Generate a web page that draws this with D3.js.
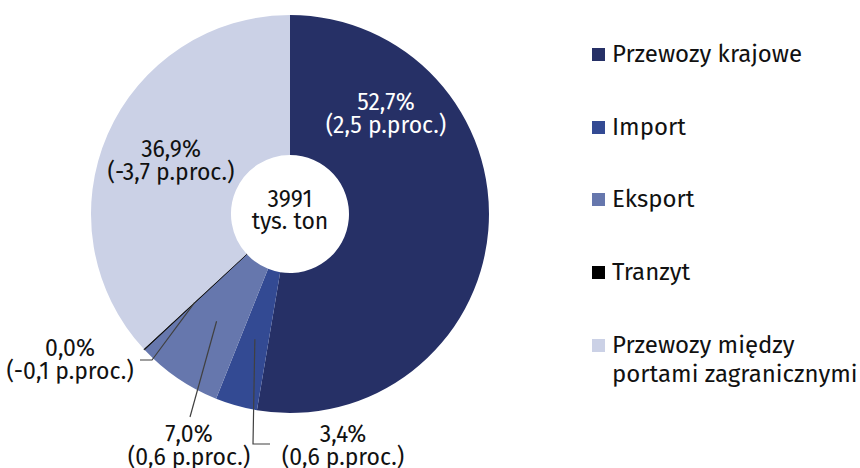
<!DOCTYPE html>
<html>
<head>
<meta charset="utf-8">
<script src="https://cdn.jsdelivr.net/npm/d3@7"></script>
<style>
  body { margin: 0; background: #fff; }
  svg { font-family: "Fira Sans", "Noto Sans", sans-serif; }
</style>
</head>
<body>
<svg width="860" height="468"></svg>
<script>
// data
var categories = ["Przewozy krajowe", "Import", "Eksport", "Tranzyt", "Przewozy między portami zagranicznymi"];
var shares = [52.7, 3.4, 7.0, 0.08, 36.9];
var shareLabels = ["52,7%", "3,4%", "7,0%", "0,0%", "36,9%"];
var changeLabels = ["(2,5 p.proc.)", "(0,6 p.proc.)", "(0,6 p.proc.)", "(-0,1 p.proc.)", "(-3,7 p.proc.)"];
var totalLabel = ["3991", "tys. ton"];
var colors = ["#263066", "#334a93", "#6677ad", "#000000", "#cbd1e6"];

var svg = d3.select("svg");
var cx = 290, cy = 214;
var outerRadius = 199, innerRadius = 59;

var data = categories.map(function(c, i) {
  return { name: c, value: shares[i], share: shareLabels[i], change: changeLabels[i], color: colors[i] };
});

var pie = d3.pie().sort(null).value(function(d) { return d.value; });
var arcs = pie(data);

var arc = d3.arc().innerRadius(innerRadius).outerRadius(outerRadius);
var anchorArc = d3.arc().innerRadius(130).outerRadius(130);

var g = svg.append("g").attr("transform", "translate(" + cx + "," + cy + ")");

g.selectAll("path.slice")
    .data(arcs)
  .enter().append("path")
    .attr("class", "slice")
    .attr("d", arc)
    .style("fill", function(d) { return d.data.color; })
    .style("stroke", function(d) { return d.index == 3 ? "#000" : "none"; })
    .style("stroke-width", 0.8);

// labels inside slices (baseline of first line, relative to centre)
var labelLayout = {
  0: { x: 96, y: -104, fill: "#fff" },
  4: { x: -119, y: -57, fill: "#111" }
};
// labels outside with leader lines: text pos + polyline elbow
var outsideLayout = {
  1: { x: 53, y: 228, elbow: [[-37, 230], [-20, 230]] },
  2: { x: -101, y: 228, elbow: [[-100, 203]] },
  3: { x: -220, y: 142, elbow: [[-138, 146], [-150, 146]] }
};

var lineHeight = 23;

function addLabel(sel, d, x, y, fill) {
  var t = sel.append("text")
      .attr("x", x)
      .attr("y", y)
      .attr("text-anchor", "middle")
      .style("font-size", "23px")
      .style("fill", fill);
  t.append("tspan").attr("x", x).attr("dy", 0).text(d.data.share);
  t.append("tspan").attr("x", x).attr("dy", lineHeight).text(d.data.change);
}

arcs.forEach(function(d) {
  if (labelLayout[d.index]) {
    var L = labelLayout[d.index];
    addLabel(g, d, L.x, L.y, L.fill);
  } else if (outsideLayout[d.index]) {
    var O = outsideLayout[d.index];
    var pts = [anchorArc.centroid(d)].concat(O.elbow);
    g.append("path")
        .attr("d", d3.line()(pts))
        .style("fill", "none")
        .style("stroke", "#404040")
        .style("stroke-width", 1.2);
    addLabel(g, d, O.x, O.y, "#111");
  }
});

// centre total
var ct = g.append("text")
    .attr("text-anchor", "middle")
    .style("font-size", "23px")
    .style("fill", "#111");
ct.append("tspan").attr("x", 0).attr("y", -7).text(totalLabel[0]);
ct.append("tspan").attr("x", 0).attr("y", 15).text(totalLabel[1]);

// legend
var legend = svg.append("g").attr("transform", "translate(592,0)");
var legendY = [62, 135, 207, 280, 353];
var legendLines = [["Przewozy krajowe"], ["Import"], ["Eksport"], ["Tranzyt"], ["Przewozy między", "portami zagranicznymi"]];

legendLines.forEach(function(lines, i) {
  var item = legend.append("g").attr("transform", "translate(0," + legendY[i] + ")");
  item.append("rect")
      .attr("x", 0).attr("y", -14)
      .attr("width", 13).attr("height", 13)
      .style("fill", colors[i]);
  var t = item.append("text")
      .attr("x", 20)
      .attr("y", 0)
      .style("font-size", "24px")
      .style("fill", "#111");
  lines.forEach(function(l, j) {
    t.append("tspan").attr("x", 20).attr("dy", j == 0 ? 0 : 29).text(l);
  });
});
</script>
</body>
</html>
